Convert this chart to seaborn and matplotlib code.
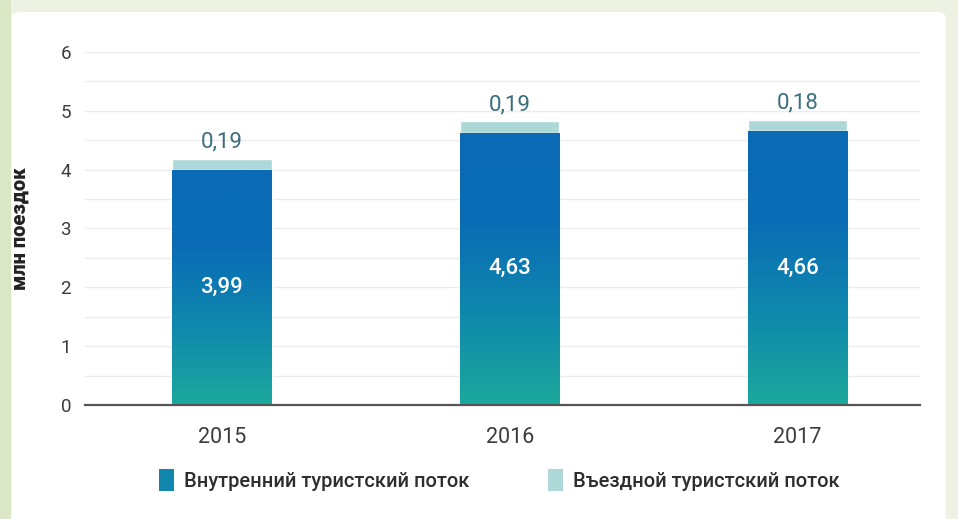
import numpy as np
import pandas as pd
import seaborn as sns
import matplotlib.pyplot as plt
from matplotlib.colors import LinearSegmentedColormap
from matplotlib.patches import FancyBboxPatch, Rectangle, Patch

# Tourist flow, million trips
years = ["2015", "2016", "2017"]
domestic = [3.99, 4.63, 4.66]
inbound = [0.19, 0.19, 0.18]
legend_labels = ["Внутренний туристский поток", "Въездной туристский поток"]
y_label = "млн поездок"

sns.set_theme(style="white")
plt.rcParams["font.family"] = ["Roboto", "DejaVu Sans"]

df = pd.DataFrame({"year": years, "domestic": domestic, "inbound": inbound})
df["total"] = df["domestic"] + df["inbound"]

fig = plt.figure(figsize=(9.58, 5.19), dpi=100, facecolor="#eef2e2")
# white slide panel and green edge strip
fig.patches.append(Rectangle((0, 0), 0.012, 1, transform=fig.transFigure,
                             facecolor="#dbe6c4", edgecolor="none", zorder=-10))
fig.patches.append(FancyBboxPatch((0.012, -0.05), 0.975, 1.027,
                                  boxstyle="round,pad=0,rounding_size=0.01",
                                  transform=fig.transFigure, facecolor="white",
                                  edgecolor="none", zorder=-9))

ax = fig.add_axes([0.0887, 0.2197, 0.8713, 0.6801])
ax.set_facecolor("none")

bar_w = 0.345
light = "#acd9d8"
# total (inbound on top) then domestic over it
sns.barplot(data=df, x="year", y="total", color=light, width=bar_w,
            saturation=1, ax=ax, zorder=2)
n_total = len(ax.patches)
sns.barplot(data=df, x="year", y="domestic", color="#0a6db3", width=bar_w,
            saturation=1, ax=ax, zorder=3)

# vertical blue -> teal gradient inside domestic bars
cmap = LinearSegmentedColormap.from_list("flow", ["#1ca99c", "#0f88ad", "#0a6db5", "#0a6ab5"])
grad = np.linspace(0, 1, 256).reshape(-1, 1)
for p in ax.patches[n_total:]:
    x0, y0 = p.get_x(), p.get_y()
    w, h = p.get_width(), p.get_height()
    im = ax.imshow(grad, cmap=cmap, origin="lower", aspect="auto",
                   extent=(x0, x0 + w, y0, y0 + h), zorder=3.5)
    im.set_clip_path(p)

ax.set_xlim(-0.476, 2.424)
ax.set_ylim(0, 6)
ax.set_yticks(range(0, 7))
ax.set_yticks(np.arange(0.5, 6, 1), minor=True)
ax.grid(axis="y", which="both", color="#ececec", linewidth=1, zorder=0)
ax.grid(axis="x", visible=False)
for s in ["top", "right", "left"]:
    ax.spines[s].set_visible(False)
ax.spines["bottom"].set_color("#555555")
ax.spines["bottom"].set_linewidth(1.6)
ax.spines["bottom"].set_zorder(5)
ax.tick_params(axis="y", which="both", length=0, pad=10, labelsize=13.5, labelcolor="#3c3c3c")
ax.tick_params(axis="x", length=0, pad=16, labelsize=15.5, labelcolor="#3c3c3c")
ax.set_xlabel("")
ax.set_ylabel("")

fmt = lambda v: f"{v:.2f}".replace(".", ",")
for i, row in df.iterrows():
    ax.text(i, row["domestic"] / 2, fmt(row["domestic"]), ha="center", va="center",
            color="white", fontsize=16, fontweight="medium", zorder=6)
    ax.text(i, row["total"] + 0.11, fmt(row["inbound"]), ha="center", va="bottom",
            color="#3b6e7e", fontsize=16, zorder=6)

fig.text(0.021, 0.56, y_label, rotation=90, ha="center", va="center",
         fontsize=14.5, fontweight="heavy", color="#222222")

handles = [Patch(facecolor="#1186ae", edgecolor="none"),
           Patch(facecolor=light, edgecolor="none")]
fig.legend(handles, legend_labels, loc="center", bbox_to_anchor=(0.521, 0.075),
           ncol=2, frameon=False, handlelength=0.75, handleheight=1.3,
           handletextpad=0.5, columnspacing=3.9,
           prop={"size": 14.5, "weight": "medium"}, labelcolor="#2e2e2e")

fig.savefig("out.png", dpi=100, facecolor=fig.get_facecolor())
